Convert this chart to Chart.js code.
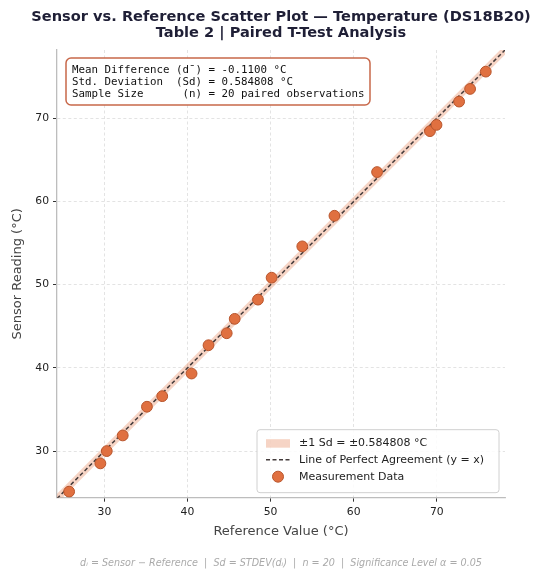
<!DOCTYPE html>
<html>
<head>
<meta charset="utf-8">
<script src="https://cdn.jsdelivr.net/npm/chart.js@4"></script>
<style>
  html, body { margin: 0; padding: 0; background: #fff; }
  #wrap { width: 536px; height: 570px; position: relative; }
</style>
</head>
<body>
<div id="wrap"><canvas id="myChart" width="536" height="570"></canvas></div>
<script>
'use strict';

// readings
const referenceValues = [25.76, 29.52, 30.29, 32.21, 35.12, 36.96, 40.49, 42.53, 44.72, 45.68,
                         48.48, 50.12, 53.81, 57.68, 62.81, 69.17, 69.96, 72.68, 74.00, 75.89];
const sensorValues    = [25.13, 28.52, 30.00, 31.88, 35.33, 36.60, 39.32, 42.72, 44.16, 45.89,
                         48.20, 50.84, 54.60, 58.28, 63.53, 68.45, 69.20, 72.00, 73.52, 75.60];
const xLimits = [24.3, 78.2];
const yLimits = [24.4, 78.2];
const tickValues = [30, 40, 50, 60, 70];
const sdValue = 0.584808;

const statLines = [
  'Mean Difference (d\u00af) = -0.1100 \u00b0C',
  'Std. Deviation  (Sd) = 0.584808 \u00b0C',
  'Sample Size      (n) = 20 paired observations',
];
const legendLabels = [
  '\u00b11 Sd = \u00b10.584808 \u00b0C',
  'Line of Perfect Agreement (y = x)',
  'Measurement Data',
];
const titleLines = [
  'Sensor vs. Reference Scatter Plot \u2014 Temperature (DS18B20)',
  'Table 2 | Paired T-Test Analysis',
];
const footnote = 'd\u1d62 = Sensor \u2212 Reference  |  Sd = STDEV(d\u1d62)  |  n = 20  |  Significance Level \u03b1 = 0.05';

const pointFill = '#e07040';
const pointEdge = '#b8552c';
const bandFill = 'rgba(224,112,64,0.3)';
const lineColor = '#433b3b';
const FONT = "'DejaVu Sans', sans-serif";

const coords = referenceValues.map((v, i) => ({x: v, y: sensorValues[i]}));
const bandUpper = xLimits.map(v => ({x: v, y: v + sdValue}));
const bandLower = xLimits.map(v => ({x: v, y: v - sdValue}));
const diagonal = xLimits.map(v => ({x: v, y: v}));

function roundRect(ctx, x, y, w, h, r) {
  ctx.beginPath();
  ctx.moveTo(x + r, y);
  ctx.lineTo(x + w - r, y);
  ctx.arcTo(x + w, y, x + w, y + r, r);
  ctx.lineTo(x + w, y + h - r);
  ctx.arcTo(x + w, y + h, x + w - r, y + h, r);
  ctx.lineTo(x + r, y + h);
  ctx.arcTo(x, y + h, x, y + h - r, r);
  ctx.lineTo(x, y + r);
  ctx.arcTo(x, y, x + r, y, r);
  ctx.closePath();
}

const boxesPlugin = {
  id: 'boxes',
  afterDraw(chart) {
    const ctx = chart.ctx;
    const area = chart.chartArea;
    ctx.save();

    // title, centred over the plot like the original
    ctx.fillStyle = '#1f1f36';
    ctx.font = 'bold 14.6px ' + FONT;
    ctx.textAlign = 'center';
    ctx.textBaseline = 'middle';
    const cx = (area.left + area.right) / 2;
    ctx.fillText(titleLines[0], cx, 17);
    ctx.fillText(titleLines[1], cx, 33);
    ctx.textAlign = 'left';

    // stats box
    const sx = area.left + 9, sy = area.top + 8;
    roundRect(ctx, sx, sy, 304, 47, 5);
    ctx.fillStyle = '#fff';
    ctx.fill();
    ctx.lineWidth = 1.5;
    ctx.strokeStyle = '#c8684a';
    ctx.stroke();
    ctx.fillStyle = '#111';
    ctx.font = "10.8px 'DejaVu Sans Mono', monospace";
    statLines.forEach((t, i) => ctx.fillText(t, sx + 6, sy + 12 + i * 12.2));

    // legend
    const lw = 242, lh = 63;
    const lx = area.right - lw - 6, ly = area.bottom - lh - 5;
    roundRect(ctx, lx, ly, lw, lh, 3);
    ctx.fillStyle = 'rgba(255,255,255,0.85)';
    ctx.fill();
    ctx.lineWidth = 1;
    ctx.strokeStyle = '#d0d0d0';
    ctx.stroke();

    const rowY = [ly + 13.5, ly + 30, ly + 47];
    ctx.fillStyle = bandFill;
    ctx.fillRect(lx + 9, rowY[0] - 4, 24, 8.5);

    ctx.beginPath();
    ctx.setLineDash([4, 2.5]);
    ctx.lineWidth = 1.5;
    ctx.strokeStyle = lineColor;
    ctx.moveTo(lx + 9, rowY[1]);
    ctx.lineTo(lx + 33, rowY[1]);
    ctx.stroke();
    ctx.setLineDash([]);

    ctx.beginPath();
    ctx.arc(lx + 21, rowY[2], 5.5, 0, Math.PI * 2);
    ctx.fillStyle = pointFill;
    ctx.fill();
    ctx.lineWidth = 1;
    ctx.strokeStyle = pointEdge;
    ctx.stroke();

    ctx.fillStyle = '#222';
    ctx.font = '11px ' + FONT;
    legendLabels.forEach((t, i) => ctx.fillText(t, lx + 42, rowY[i]));
    ctx.restore();
  }
};

function axisOptions(limits, titleText, isX) {
  return {
    type: 'linear',
    min: limits[0],
    max: limits[1],
    afterBuildTicks: scale => { scale.ticks = tickValues.map(v => ({value: v})); },
    afterFit: scale => {
      if (isX) scale.height = 59.6; else scale.width = 57;
    },
    grid: {
      color: '#dcdcdc',
      lineWidth: 0.8,
      tickLength: 4,
      tickColor: '#333',
      tickWidth: 1,
      tickBorderDash: [],
      drawOnChartArea: true,
    },
    border: { display: true, color: '#bdbdbd', width: 1.3, dash: [3, 2.5] },
    ticks: {
      color: '#222',
      padding: 4,
      font: { family: FONT, size: 10.8 },
    },
    title: {
      display: true,
      text: titleText,
      color: '#444',
      font: { family: FONT, size: 13 },
      padding: isX ? { top: 0, bottom: 17.8 } : { top: 10, bottom: 0 },
    },
  };
}

const ctx = document.getElementById('myChart');

const chart = new Chart(ctx, {
  type: 'scatter',
  data: {
    datasets: [
      {
        label: 'Measurement Data',
        data: coords,
        backgroundColor: pointFill,
        borderColor: pointEdge,
        borderWidth: 1,
        pointRadius: 5.4,
        order: 0,
      },
      {
        type: 'line',
        label: 'Line of Perfect Agreement (y = x)',
        data: diagonal,
        borderColor: lineColor,
        borderWidth: 1.5,
        borderDash: [4, 2.5],
        pointRadius: 0,
        fill: false,
        order: 1,
      },
      {
        type: 'line',
        label: 'upper',
        data: bandUpper,
        borderWidth: 0,
        borderColor: 'rgba(0,0,0,0)',
        pointRadius: 0,
        fill: false,
        order: 3,
      },
      {
        type: 'line',
        label: 'band',
        data: bandLower,
        borderWidth: 0,
        borderColor: 'rgba(0,0,0,0)',
        backgroundColor: bandFill,
        pointRadius: 0,
        fill: '-1',
        order: 2,
      },
    ]
  },
  options: {
    responsive: false,
    animation: false,
    layout: { padding: { top: 50, right: 31, left: 0, bottom: 0 } },
    scales: {
      x: axisOptions(xLimits, 'Reference Value (\u00b0C)', true),
      y: axisOptions(yLimits, 'Sensor Reading (\u00b0C)', false),
    },
    plugins: {
      legend: { display: false },
      tooltip: { enabled: false },
      title: { display: false },
      subtitle: {
        display: true,
        fullSize: false,
        position: 'bottom',
        text: footnote,
        color: '#aaaaaa',
        font: { family: FONT, size: 9.6, style: 'italic', lineHeight: 1.2 },
        padding: { top: 0, bottom: 1.2 },
      },
    }
  },
  plugins: [boxesPlugin],
});
</script>
</body>
</html>
